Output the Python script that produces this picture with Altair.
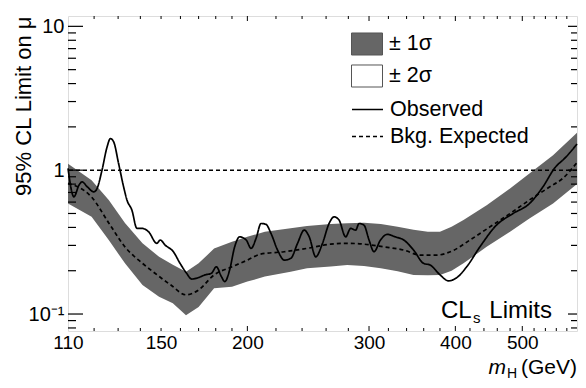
import altair as alt
import pandas as pd

# ---------------- data ----------------
band_mass = [110, 119, 126, 133, 141, 149, 156, 163, 170, 179, 190, 200, 212, 231, 244,
             264, 279, 295, 312, 330, 348, 365, 380, 395, 411, 444, 480, 512, 554, 600]
band_hi = [1.11, 0.85, 0.62, 0.43, 0.31, 0.25, 0.22, 0.197, 0.225, 0.285, 0.318, 0.344, 0.373, 0.394, 0.409,
           0.422, 0.427, 0.431, 0.423, 0.404, 0.385, 0.373, 0.373, 0.405, 0.45, 0.571, 0.746, 0.949, 1.27, 1.82]
band_lo = [0.587, 0.474, 0.327, 0.225, 0.159, 0.132, 0.119, 0.098, 0.112, 0.151, 0.155, 0.168, 0.182, 0.197, 0.208,
           0.214, 0.219, 0.216, 0.208, 0.198, 0.187, 0.186, 0.187, 0.20, 0.225, 0.293, 0.373, 0.462, 0.587, 0.80]

exp_mass = [110, 119, 126, 133, 141, 147, 155, 163, 170, 179, 190, 200, 209, 226, 244,
            264, 279, 295, 315, 337, 356, 376, 398, 420, 449, 480, 512, 548, 572, 600]
exp_vals = [0.81, 0.65, 0.43, 0.293, 0.225, 0.192, 0.159, 0.136, 0.147, 0.187, 0.213, 0.237, 0.261, 0.271, 0.286,
            0.306, 0.31, 0.306, 0.293, 0.278, 0.257, 0.257, 0.278, 0.327, 0.404, 0.50, 0.62, 0.766, 0.876, 1.13]

obs_mass = [110, 112.2, 114.1, 115.3, 117.3, 119.9, 121.2, 123.2, 125.3, 126.7,
            128.1, 130.2, 132.4, 133.9, 136.1, 138.4, 140.7, 143.9, 147.9, 149.6,
            152.0, 156.3, 159.8, 163.3, 166.1, 169.8, 173.6, 177.4, 180.4, 183.4,
            185.5, 188.5, 191.7, 194.9, 199.2, 202.5, 205.9, 209.3, 212.8, 216.4,
            221.2, 226.2, 231.2, 236.4, 241.7, 245.8, 251.2, 256.9, 262.6, 267.1,
            271.5, 277.5, 282.2, 286.9, 290.2, 295.0, 300.0, 305.0, 311.7, 318.7,
            327.5, 336.8, 348.1, 359.8, 367.8, 380.2, 390.9, 401.9, 415.4, 434.1,
            458.8, 484.9, 512.3, 535.6, 556.6, 578.6, 600]
obs_vals = [1.03, 0.653, 0.787, 0.829, 0.766, 0.707, 0.746, 1.0, 1.451, 1.66,
            1.572, 1.113, 0.766, 0.619, 0.528, 0.394, 0.394, 0.373, 0.310, 0.327,
            0.302, 0.271, 0.225, 0.192, 0.175, 0.179, 0.187, 0.192, 0.213, 0.182,
            0.168, 0.202, 0.293, 0.344, 0.327, 0.286, 0.336, 0.426, 0.420, 0.363,
            0.278, 0.237, 0.244, 0.310, 0.383, 0.344, 0.250, 0.310, 0.426, 0.474,
            0.450, 0.344, 0.394, 0.383, 0.426, 0.415, 0.327, 0.271, 0.327, 0.358,
            0.344, 0.327, 0.278, 0.225, 0.219, 0.187, 0.170, 0.179, 0.213, 0.293,
            0.415, 0.500, 0.587, 0.766, 1.03, 1.237, 1.52]

band_names = ["± 1σ", "± 2σ"]
band_colors = ["#666666", "#ffffff"]
line_names = ["Observed", "Bkg. Expected"]

x_labels = [110, 150, 200, 300, 400, 500]
x_major = [200, 300, 400, 500]
x_minor = [120, 130, 140, 150, 160, 170, 180, 190, 220, 240, 260, 280, 320, 340, 360, 380,
           420, 440, 460, 480, 520, 540, 560, 580]
y_labels = [0.1, 1, 10]
y_minor = [0.08, 0.09, 0.2, 0.3, 0.4, 0.5, 0.6, 0.7, 0.8, 0.9, 2, 3, 4, 5, 6, 7, 8, 9]

# ---------------- tables ----------------
band_df = pd.DataFrame({"m": band_mass, "lo": band_lo, "hi": band_hi, "band": band_names[0]})
lines_df = pd.concat([
    pd.DataFrame({"m": exp_mass, "v": exp_vals, "series": line_names[1], "o": 0}),
    pd.DataFrame({"m": obs_mass, "v": obs_vals, "series": line_names[0], "o": 1}),
])
xmaj_df = pd.DataFrame({"m": x_major})
xmin_df = pd.DataFrame({"m": x_minor})
ymaj_df = pd.DataFrame({"v": y_labels})
ymin_df = pd.DataFrame({"v": y_minor})
one_df = pd.DataFrame({"v": [1.0]})

W, H = 509, 315
FONT = "Liberation Sans"

xscale = alt.Scale(type="log", domain=[110, 600], nice=False, zero=False)
yscale = alt.Scale(type="log", domain=[0.0762, 11.8], nice=False, zero=False)

xaxis = alt.Axis(values=x_labels, format="d", ticks=False, domain=False, grid=False, title=None,
                 labelFont=FONT, labelFontSize=19, labelColor="black", labelPadding=2,
                 labelFlush=False, labelOverlap=False)
yaxis = alt.Axis(values=y_labels, ticks=False, domain=False, grid=False,
                 labelExpr="datum.value < 0.5 ? '10⁻¹' : (datum.value < 5 ? '1' : '10')",
                 labelFont=FONT, labelFontSize=20, labelColor="black", labelPadding=4,
                 labelFlush=False, labelOverlap=False,
                 title="95% CL Limit on μ", titleFont=FONT, titleFontSize=22, titleFontWeight="normal",
                 titleColor="black", titleAngle=270, titleAlign="right", titleBaseline="alphabetic",
                 titleX=-38, titleY=0)

X = alt.X("m:Q", scale=xscale, axis=xaxis)
Y = alt.Y("v:Q", scale=yscale, axis=yaxis)

band = alt.Chart(band_df).mark_area(opacity=1).encode(
    x=X,
    y=alt.Y("lo:Q", scale=yscale, axis=yaxis),
    y2="hi:Q",
    fill=alt.Fill("band:N", scale=alt.Scale(domain=band_names, range=band_colors),
                  legend=alt.Legend(title=None, orient="none", legendX=283, legendY=12,
                                    symbolType="M-1,-0.71L1,-0.71L1,0.71L-1,0.71Z",
                                    symbolSize=961, symbolStrokeColor="#555555", symbolStrokeWidth=1,
                                    symbolOpacity=1,
                                    labelFont=FONT, labelFontSize=21.5, labelColor="black",
                                    labelOffset=6, rowPadding=2, padding=0)),
)

lines = alt.Chart(lines_df).mark_line(color="black", strokeWidth=1.7, interpolate="monotone").encode(
    x=X, y=Y,
    detail="series:N",
    order="o:Q",
    strokeDash=alt.StrokeDash("series:N",
                              scale=alt.Scale(domain=line_names, range=[[1, 0], [4, 3]]),
                              legend=alt.Legend(title=None, orient="none", legendX=283, legendY=77,
                                                symbolType="stroke", symbolSize=961,
                                                symbolStrokeColor="black", symbolStrokeWidth=1.5,
                                                labelFont=FONT, labelFontSize=21.5, labelColor="black",
                                                labelOffset=6, rowPadding=0, padding=0)),
)

one_line = alt.Chart(one_df).mark_rule(color="black", strokeWidth=1.5, strokeDash=[4, 3]).encode(y=Y)

tick_col = "black"
xb_maj = alt.Chart(xmaj_df).mark_rule(color=tick_col, strokeWidth=1).encode(x=X, y=alt.value(H), y2=alt.value(H - 5))
xb_min = alt.Chart(xmin_df).mark_rule(color=tick_col, strokeWidth=1).encode(x=X, y=alt.value(H), y2=alt.value(H - 3))
xt_maj = alt.Chart(xmaj_df).mark_rule(color=tick_col, strokeWidth=1).encode(x=X, y=alt.value(0), y2=alt.value(5))
xt_min = alt.Chart(xmin_df).mark_rule(color=tick_col, strokeWidth=1).encode(x=X, y=alt.value(0), y2=alt.value(3))
yl_maj = alt.Chart(ymaj_df).mark_rule(color=tick_col, strokeWidth=1.2).encode(y=Y, x=alt.value(0), x2=alt.value(15))
yl_min = alt.Chart(ymin_df).mark_rule(color=tick_col, strokeWidth=1.2).encode(y=Y, x=alt.value(0), x2=alt.value(8))
yr_maj = alt.Chart(ymaj_df).mark_rule(color=tick_col, strokeWidth=1.2).encode(y=Y, x=alt.value(W), x2=alt.value(W - 9))
yr_min = alt.Chart(ymin_df).mark_rule(color=tick_col, strokeWidth=1.2).encode(y=Y, x=alt.value(W), x2=alt.value(W - 6))

def txt(s, x, y, size=22, align="left", style="normal"):
    return alt.Chart(pd.DataFrame({"t": [s]})).mark_text(
        font=FONT, fontSize=size, align=align, baseline="alphabetic", color="black", fontStyle=style
    ).encode(x=alt.value(x), y=alt.value(y), text="t:N")

cls_a = txt("CL", 373, 302, size=24)
cls_b = txt("s", 405, 307, size=15)
cls_c = txt("Limits", 484, 302, size=24, align="right")

xt_a = txt("(GeV)", W, 358, size=21, align="right")
xt_b = txt("H", 449, 362, size=14, align="right")
xt_c = txt("m", 438, 358, size=21, align="right", style="italic")

chart = alt.layer(
    band, one_line, lines,
    xb_maj, xb_min, xt_maj, xt_min, yl_maj, yl_min, yr_maj, yr_min,
    cls_a, cls_b, cls_c, xt_a, xt_b, xt_c,
).resolve_scale(fill="independent", strokeDash="independent").properties(
    width=W, height=H,
    autosize=alt.AutoSizeParams(type="none"),
    padding={"left": 60, "top": 8, "right": 1, "bottom": 49},
).configure_view(stroke="black", strokeWidth=1.6).configure(background="white")

chart.save("out.html", embed_options={"renderer": "svg", "actions": False})
